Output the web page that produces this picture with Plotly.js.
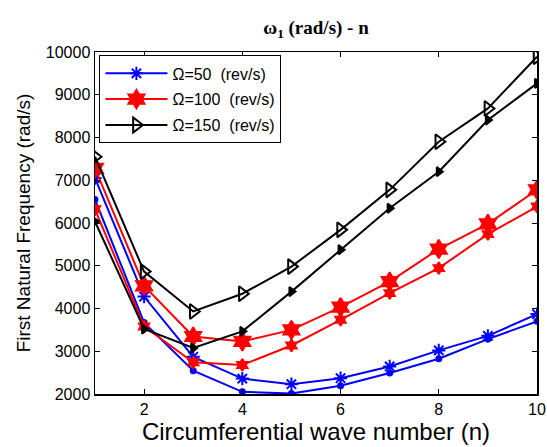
<!DOCTYPE html>
<html><head><meta charset="utf-8">
<script src="https://cdn.plot.ly/plotly-3.0.1.min.js"></script>
<style>html,body{margin:0;padding:0;background:#fff}#chart{width:547px;height:447px}</style>
</head><body><div id="chart"></div>
<script>
const n = [1,2,3,4,5,6,7,8,9,10];
const blueUpper = [7050,4280,2870,2360,2230,2370,2645,3020,3360,3870];
const blueLower = [6550,3670,2545,2050,2010,2195,2490,2825,3285,3700];
const redUpper  = [7280,4530,3345,3230,3500,4030,4630,5390,5980,6775];
const redLower  = [6320,3580,2740,2680,3135,3735,4360,4945,5740,6385];
const blackUpper= [7550,4865,3930,4345,4980,5840,6775,7900,8680,9890];
const blackLower= [6035,3520,3075,3465,4395,5375,6345,7200,8410,9265];
const names = ['\u03A9=50  (rev/s)','\u03A9=100  (rev/s)','\u03A9=150  (rev/s)'];
const xTicks = [2,4,6,8,10];
const yTicks = [2000,3000,4000,5000,6000,7000,8000,9000,10000];

function tr(y, color, sym, size, name, show, grp){
  return {x:n, y:y, type:'scatter', mode:'lines+markers', name:name, showlegend:show, legendgroup:grp,
    line:{color:color, width:2},
    marker:{symbol:sym, size:size, color:color, line:{color:color, width:2}}};
}
const data = [
  tr(blueUpper,'#0000ff','asterisk-open',11,names[0],true,'a'),
  tr(redUpper,'#ff0000','hexagram',14,names[1],true,'b'),
  tr(blackUpper,'#000000','triangle-right-open',13,names[2],true,'c'),
  tr(blueLower,'#0000ff','circle',5,'',false,'d'),
  tr(redLower,'#ff0000','hexagram',9,'',false,'e'),
  tr(blackLower,'#000000','triangle-right',8,'',false,'f')
];
const tickFont = {family:'Liberation Sans, Arial', size:16, color:'#000'};
const layout = {
  width:547, height:447,
  margin:{l:95, r:10, t:52, b:53},
  paper_bgcolor:'#fff', plot_bgcolor:'#fff',
  title:{text:'<b>\u03C9<sub>1</sub> (rad/s) - n</b>', font:{family:'Liberation Serif, Times New Roman', size:19, color:'#000'}, x:0.5, xref:'paper', y:1-27/447, yanchor:'middle'},
  xaxis:{range:[1,10], tickvals:xTicks, ticktext:xTicks.map(String), ticks:'inside', ticklen:5, tickcolor:'#000',
    showline:true, linecolor:'#000', linewidth:1.5, mirror:'ticks', showgrid:false, zeroline:false,
    tickfont:tickFont,
    title:{text:'Circumferential wave number (n)', font:{family:'Liberation Sans, Arial', size:24, color:'#000'}, standoff:1}},
  yaxis:{range:[2000,10000], tickvals:yTicks, ticktext:yTicks.map(String), ticks:'inside', ticklen:5, tickcolor:'#000',
    showline:true, linecolor:'#000', linewidth:1.5, mirror:'ticks', showgrid:false, zeroline:false,
    tickfont:tickFont,
    title:{text:'First Natural Frequency (rad/s)', font:{family:'Liberation Sans, Arial', size:19, color:'#000'}, standoff:10}},
  legend:{x:0.01, y:0.99, xanchor:'left', yanchor:'top', bgcolor:'#fff', bordercolor:'#000', borderwidth:1,
    font:{family:'Liberation Sans, Arial', size:16, color:'#000'}, itemwidth:62, tracegroupgap:2},
  showlegend:true
};
Plotly.newPlot('chart', data, layout, {displayModeBar:false, staticPlot:true});
</script></body></html>
